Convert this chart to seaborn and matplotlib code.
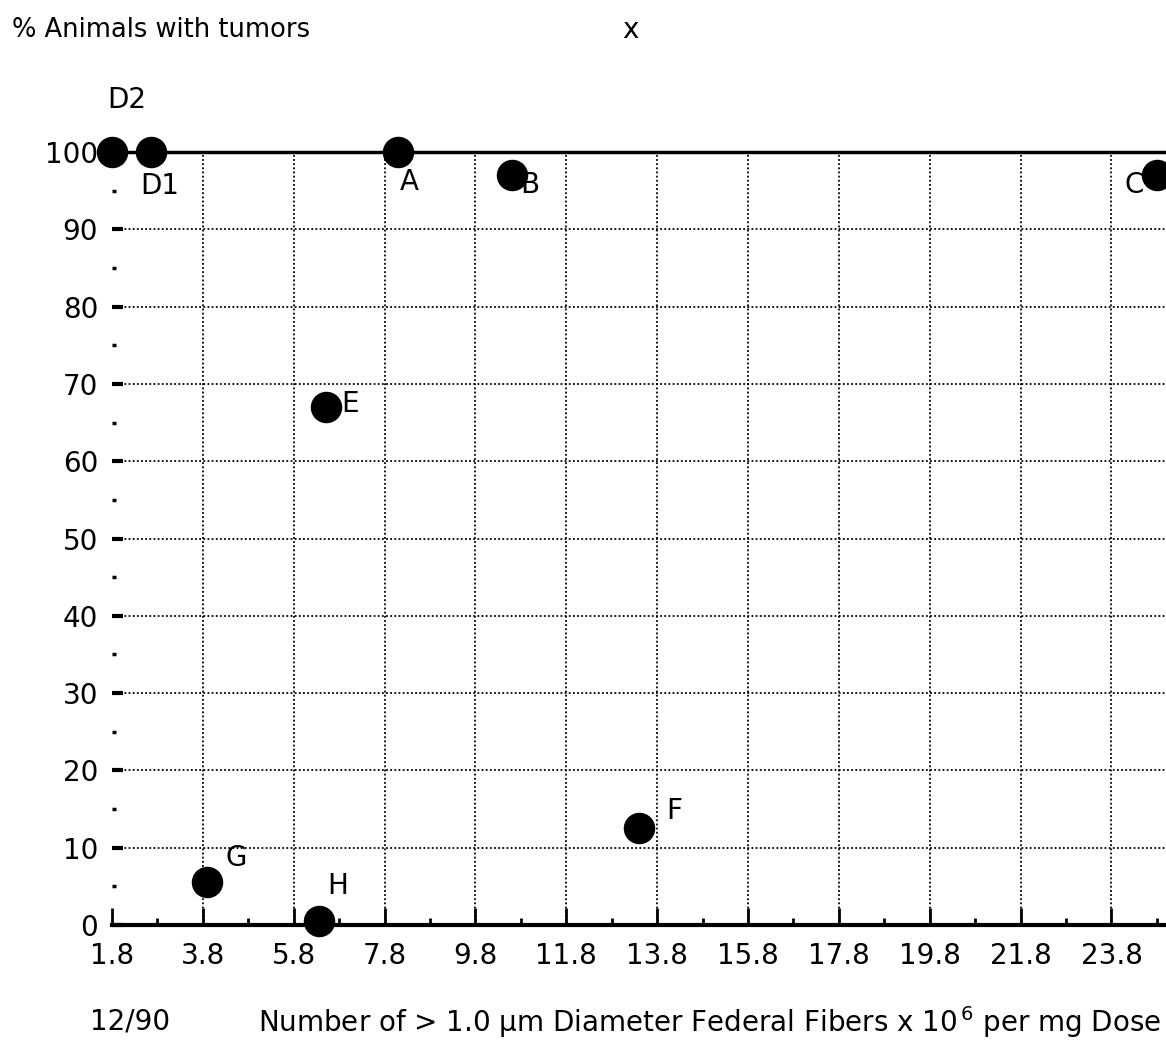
import matplotlib
matplotlib.use("Agg")
import matplotlib.pyplot as plt
import seaborn as sns
import pandas as pd
from matplotlib.ticker import FixedLocator

# ---- data ----
labels = ["D2", "D1", "A", "B", "C", "E", "F", "G", "H"]
fibers = [1.8, 2.65, 8.1, 10.6, 24.8, 6.5, 13.4, 3.9, 6.35]
tumor_pct = [100, 100, 100, 97, 97, 67, 12.5, 5.5, 0.5]
x_ticks = [1.8, 3.8, 5.8, 7.8, 9.8, 11.8, 13.8, 15.8, 17.8, 19.8, 21.8, 23.8]
y_ticks = [0, 10, 20, 30, 40, 50, 60, 70, 80, 90, 100]

df = pd.DataFrame({"label": labels, "x": fibers, "y": tumor_pct})

sns.set_style("white", rc={"text.color": "black", "xtick.color": "black",
                           "ytick.color": "black", "axes.edgecolor": "black",
                           "axes.labelcolor": "black",
                           "xtick.bottom": True, "ytick.left": True})
plt.rcParams["font.family"] = ["DejaVu Sans"]

W, H = 1166, 1047
fig = plt.figure(figsize=(W / 100, H / 100), dpi=100)
ax = fig.add_axes([112 / W, 1 - 925 / H, (W - 112) / W, (925 - 152) / H])

fs = 20

# grid
for xv in x_ticks[1:]:
    ax.plot([xv, xv], [0, 100], linestyle=(0, (1, 1.3)), color="black", lw=1.3, zorder=1)
for yv in y_ticks[1:-1]:
    ax.plot([1.8, 25.0], [yv, yv], linestyle=(0, (1, 1.3)), color="black", lw=1.3, zorder=1)

sns.scatterplot(data=df, x="x", y="y", s=440, color="black", edgecolor="black",
                marker="o", ax=ax, zorder=5, clip_on=False, legend=False)

ax.set_xlim(1.8, 25.0)
ax.set_ylim(0, 100)

for sp in ["left", "right"]:
    ax.spines[sp].set_visible(False)
ax.spines["bottom"].set_linewidth(3)
ax.spines["top"].set_linewidth(2.5)

ax.xaxis.set_major_locator(FixedLocator(x_ticks))
ax.xaxis.set_minor_locator(FixedLocator([v + 1 for v in x_ticks]))
ax.yaxis.set_major_locator(FixedLocator(y_ticks))
ax.yaxis.set_minor_locator(FixedLocator([v + 5 for v in y_ticks[:-1]]))
ax.set_xticklabels([f"{v:.1f}" for v in x_ticks])
ax.set_yticklabels([str(v) for v in y_ticks])
ax.tick_params(axis="x", which="major", direction="in", length=12, width=2, pad=12,
               labelsize=fs, bottom=True, top=False)
ax.tick_params(axis="x", which="minor", direction="in", length=5, width=2,
               bottom=True, top=False)
ax.tick_params(axis="y", which="major", direction="in", length=8, width=3, pad=10,
               labelsize=fs, left=True, right=False)
ax.tick_params(axis="y", which="minor", direction="in", length=3, width=2.5,
               left=True, right=False)
ax.set_xlabel("")
ax.set_ylabel("")

# point labels
offsets = {"D2": (15, 52), "D1": (9, -34), "A": (11, -30), "B": (18, -10), "C": (-23, -10),
           "E": (25, 3), "F": (35, 17), "G": (29, 24), "H": (19, 35)}
for lab, xv, yv in zip(labels, fibers, tumor_pct):
    ax.annotate(lab, (xv, yv), xytext=offsets[lab], textcoords="offset pixels",
                ha="center", va="center", fontsize=fs, zorder=6, annotation_clip=False)

fig.text(12 / W, 1 - 30 / H, "% Animals with tumors", fontsize=18.5, ha="left", va="center")
fig.text(630 / W, 1 - 30 / H, "x", fontsize=fs, ha="center", va="center")
fig.text(90 / W, 1 - 1022 / H, "12/90", fontsize=fs, ha="left", va="center")
fig.text(258 / W, 1 - 1022 / H,
         r"Number of > 1.0 µm Diameter Federal Fibers x 10$^{\,6}$ per mg Dose",
         fontsize=fs, ha="left", va="center")

fig.savefig("out.png", dpi=100)
